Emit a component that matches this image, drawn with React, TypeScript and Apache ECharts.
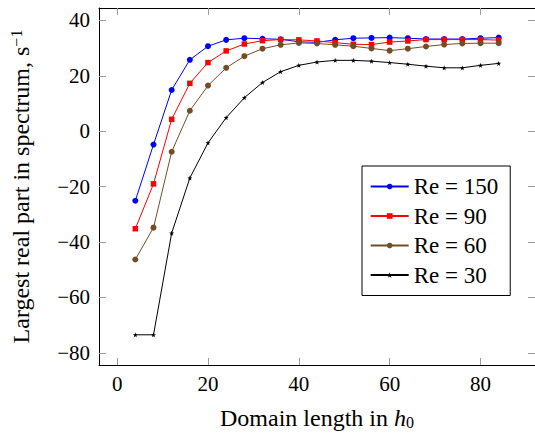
import React, { useEffect, useRef } from "react";
import * as echarts from "echarts";

const xValues = [4, 8, 12, 16, 20, 24, 28, 32, 36, 40, 44, 48, 52, 56, 60, 64, 68, 72, 76, 80, 84];
const re150 = [-25.1, -4.8, 14.9, 25.8, 30.7, 33.0, 33.6, 33.4, 33.2, 32.3, 32.1, 33.0, 33.6, 33.7, 33.8, 33.6, 33.3, 33.3, 33.3, 33.6, 33.8];
const re90 = [-35.2, -19.0, 4.3, 17.3, 24.8, 29.0, 31.5, 32.7, 33.1, 33.0, 32.6, 32.0, 31.4, 31.3, 32.2, 32.6, 33.1, 33.1, 33.1, 33.1, 32.9];
const re60 = [-46.3, -34.8, -7.4, 7.4, 16.5, 22.9, 27.1, 29.8, 31.2, 31.9, 31.7, 31.2, 30.7, 29.9, 29.1, 29.8, 30.6, 31.3, 31.7, 31.8, 31.8];
const re30 = [-73.5, -73.5, -36.8, -16.9, -4.2, 4.9, 12.1, 17.6, 21.5, 23.8, 25.0, 25.6, 25.6, 25.3, 24.8, 24.2, 23.5, 22.9, 22.9, 23.8, 24.5];
const seriesNames = ["Re = 150", "Re = 90", "Re = 60", "Re = 30"];
const xTicks = [0, 20, 40, 60, 80];
const yTicks = [-80, -60, -40, -20, 0, 20, 40];

const FONT = "Liberation Serif";
const STAR =
  "path://M0,-10 L2.35,-3.24 L9.51,-3.09 L3.8,1.24 L5.88,8.09 L0,4 L-5.88,8.09 L-3.8,1.24 L-9.51,-3.09 L-2.35,-3.24 Z";

const fmt = (v: number) => (v < 0 ? "\u2212" + Math.abs(v) : String(v));
const CSS = ".chart-root text, .chart-root tspan { font-family: 'Liberation Serif', serif !important; }";

export default function App() {
  const ref = useRef<HTMLDivElement>(null);
  useEffect(() => {
    if (!ref.current) return;
    const chart = echarts.init(ref.current, null, { renderer: "svg" });
    const tick = { show: true, inside: true, length: 7, lineStyle: { color: "#9a9a9a", width: 1 } };
    const line = { show: true, onZero: false, lineStyle: { color: "#000", width: 1 } };
    const mk = (name: string, data: number[], color: string, symbol: string, size: number) => ({
      name,
      type: "line",
      data: xValues.map((x, i) => [x, data[i]]),
      symbol,
      symbolSize: size,
      lineStyle: { color, width: 1 },
      itemStyle: { color },
      showSymbol: true,
    });
    chart.setOption({
      animation: false,
      textStyle: { fontFamily: FONT },
      grid: { left: 98, top: 8, right: -2.6, bottom: 61.7, show: false },
      xAxis: [
        {
          type: "value",
          min: -4,
          max: 92,
          position: "bottom",
          axisLine: line,
          axisTick: { ...tick, customValues: xTicks },
          axisLabel: { customValues: xTicks, formatter: fmt, fontFamily: FONT, fontSize: 21, color: "#000", margin: 8 },
          splitLine: { show: false },
          name: "Domain length in {i|h}{s|0}",
          nameLocation: "middle",
          nameGap: 41,
          nameTextStyle: {
            fontFamily: FONT,
            fontSize: 24,
            color: "#000",
            rich: {
              i: { fontFamily: FONT, fontSize: 24, fontStyle: "italic", color: "#000" },
              s: { fontFamily: FONT, fontSize: 16, color: "#000", padding: [8, 0, 0, 0] },
            },
          },
        },
        {
          type: "value",
          min: -4,
          max: 92,
          position: "top",
          axisLine: line,
          axisTick: { ...tick, customValues: xTicks },
          axisLabel: { show: false },
          splitLine: { show: false },
        },
      ],
      yAxis: [
        {
          type: "value",
          min: -84.4,
          max: 44.5,
          position: "left",
          axisLine: line,
          axisTick: { ...tick, customValues: yTicks },
          axisLabel: { customValues: yTicks, formatter: fmt, fontFamily: FONT, fontSize: 21, color: "#000", margin: 9 },
          splitLine: { show: false },
          name: "Largest real part in spectrum, s{s|\u22121}",
          nameLocation: "middle",
          nameGap: 65,
          nameRotate: 90,
          nameTextStyle: {
            fontFamily: FONT,
            fontSize: 24,
            color: "#000",
            rich: {
              s: { fontFamily: FONT, fontSize: 16, color: "#000", padding: [0, 0, 10, 0] },
            },
          },
        },
        {
          type: "value",
          min: -84.4,
          max: 44.5,
          position: "right",
          axisLine: line,
          axisTick: { ...tick, customValues: yTicks },
          axisLabel: { show: false },
          splitLine: { show: false },
        },
      ],
      legend: {
        orient: "vertical",
        left: 362,
        top: 166,
        padding: [9, 12, 9, 7.7],
        itemWidth: 38,
        itemHeight: 7,
        itemGap: 6.5,
        borderColor: "#000",
        borderWidth: 1,
        borderRadius: 0,
        backgroundColor: "#fff",
        data: seriesNames,
        textStyle: { fontFamily: FONT, fontSize: 23, color: "#000", lineHeight: 21 },
      },
      series: [
        mk(seriesNames[0], re150, "#0000ff", "circle", 6),
        mk(seriesNames[1], re90, "#ff0000", "rect", 5.5),
        mk(seriesNames[2], re60, "#734d26", "circle", 6),
        mk(seriesNames[3], re30, "#000000", STAR, 5),
      ],
    });
    return () => chart.dispose();
  }, []);
  return (
    <div>
      <style>{CSS}</style>
      <div
        ref={ref}
        className="chart-root"
        style={{ position: "absolute", left: 0, top: 0, width: 535, height: 435, fontFamily: FONT }}
      />
    </div>
  );
}
